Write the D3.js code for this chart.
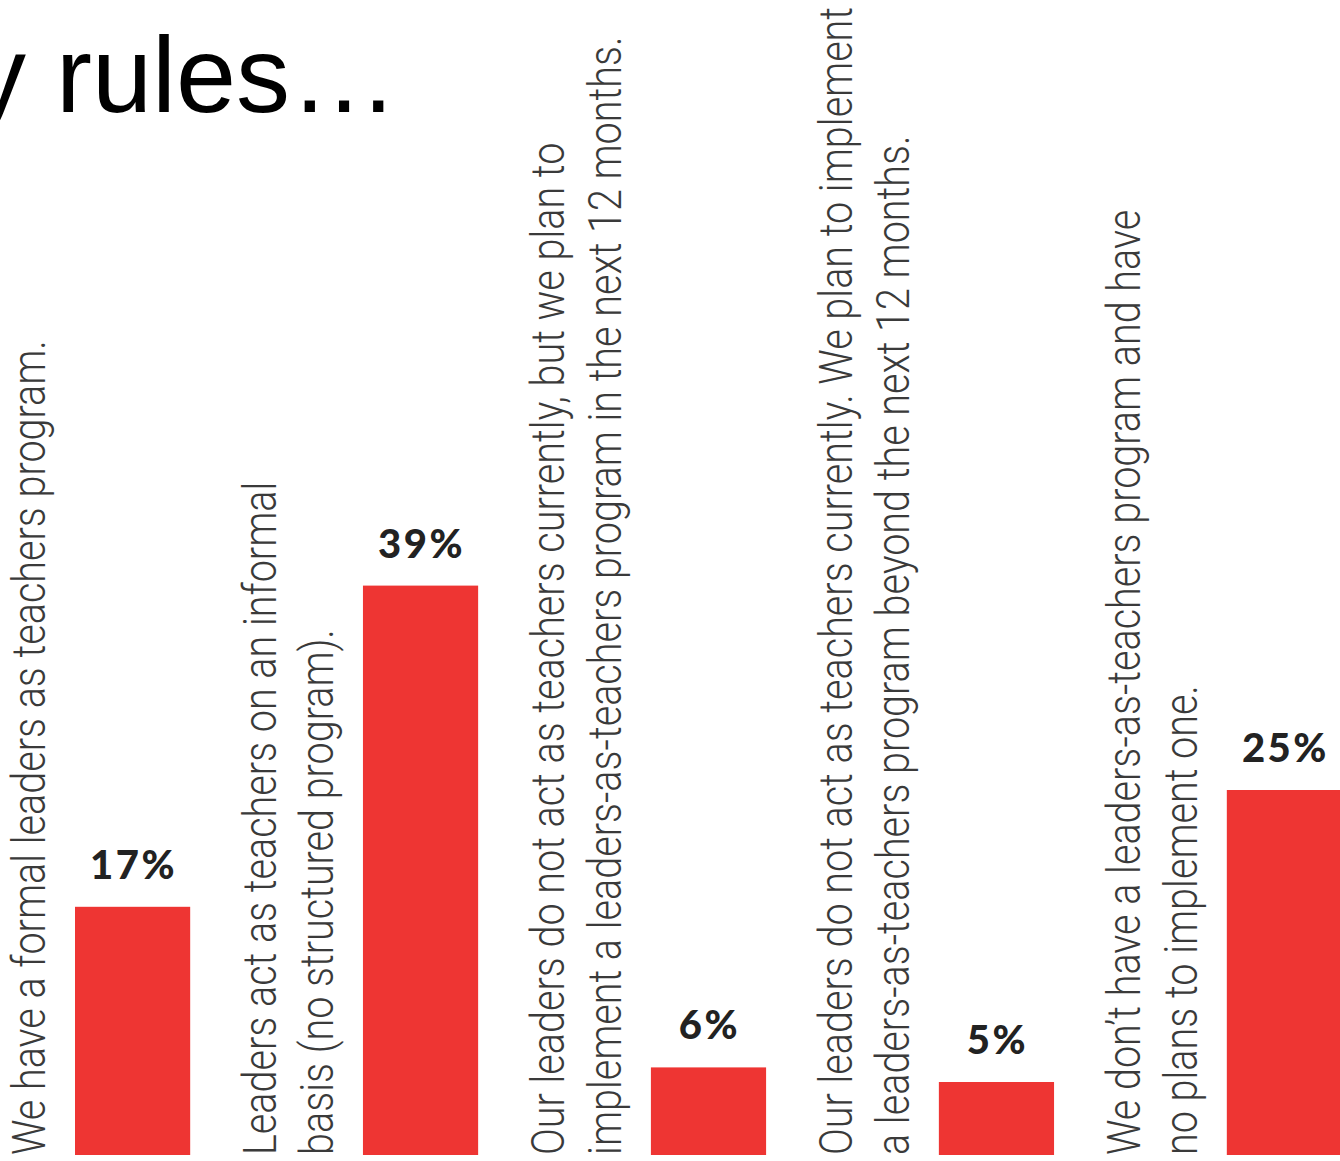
<!DOCTYPE html>
<html>
<head>
<meta charset="utf-8">
<script src="https://cdn.jsdelivr.net/npm/d3@7/dist/d3.min.js"></script>
<style>
  html, body { margin: 0; padding: 0; background: #fff; }
  svg { display: block; }
</style>
</head>
<body>
<script>
// Survey responses: how leaders act as teachers
const categories = [
  "formal",
  "informal",
  "plan12",
  "planBeyond",
  "noPlans"
];
const categoryLines = [
  ["We have a formal leaders as teachers program."],
  ["Leaders act as teachers on an informal", "basis (no structured program)."],
  ["Our leaders do not act as teachers currently, but we plan to", "implement a leaders-as-teachers program in the next 12 months."],
  ["Our leaders do not act as teachers currently. We plan to implement", "a leaders-as-teachers program beyond the next 12 months."],
  ["We don\u2019t have a leaders-as-teachers program and have", "no plans to implement one."]
];
const values = [17, 39, 6, 5, 25];
const titleText = "y rules\u2026";

const W = 1340, H = 1161;
const baseY = 1155;

const svg = d3.select("body").append("svg")
  .attr("width", W).attr("height", H);

// Heading, running off the left edge
svg.append("text")
  .attr("x", -28).attr("y", 112)
  .attr("font-family", "'Liberation Sans', Arial, sans-serif")
  .attr("font-size", 108)
  .attr("fill", "#000")
  .text(titleText);

const x = d3.scaleBand()
  .domain(categories)
  .range([75, 1342])
  .paddingInner(0.6)
  .paddingOuter(0);

const y = d3.scaleLinear()
  .domain([0, 40])
  .range([baseY, baseY - 40 * 14.6]);

const rows = categories.map((c, i) => ({ key: c, value: values[i], lines: categoryLines[i] }));

// Bars
svg.append("g").selectAll("rect")
  .data(rows)
  .join("rect")
  .attr("x", d => x(d.key))
  .attr("y", d => y(d.value))
  .attr("width", x.bandwidth())
  .attr("height", d => y(0) - y(d.value))
  .attr("fill", "#ee3533");

// Value labels
svg.append("g").selectAll("text")
  .data(rows)
  .join("text")
  .attr("x", d => x(d.key) + x.bandwidth() / 2 + 1)
  .attr("y", d => y(d.value) - 28)
  .attr("text-anchor", "middle")
  .attr("font-family", "Lato, 'Open Sans', sans-serif")
  .attr("font-weight", 900)
  .attr("font-size", 40)
  .attr("letter-spacing", 2.5)
  .attr("fill", "#222")
  .text(d => d.value + "%");

// Rotated category labels, read bottom to top, left of each bar
const lineGap = 57;
const condense = 0.86;
const labelGroups = svg.append("g").selectAll("g")
  .data(rows)
  .join("g");

labelGroups.each(function(d) {
  const n = d.lines.length;
  d3.select(this).selectAll("text")
    .data(d.lines)
    .join("text")
    .attr("transform", (t, j) => {
      const bx = x(d.key) - 30 - (n - 1 - j) * lineGap;
      return `translate(${bx},${baseY}) rotate(-90) scale(${condense},1)`;
    })
    .attr("font-family", "Roboto, 'Liberation Sans', sans-serif")
    .attr("font-weight", 300)
    .attr("font-size", 46)
    .attr("fill", "#3a3a3a")
    .text(t => t);
});
</script>
</body>
</html>
